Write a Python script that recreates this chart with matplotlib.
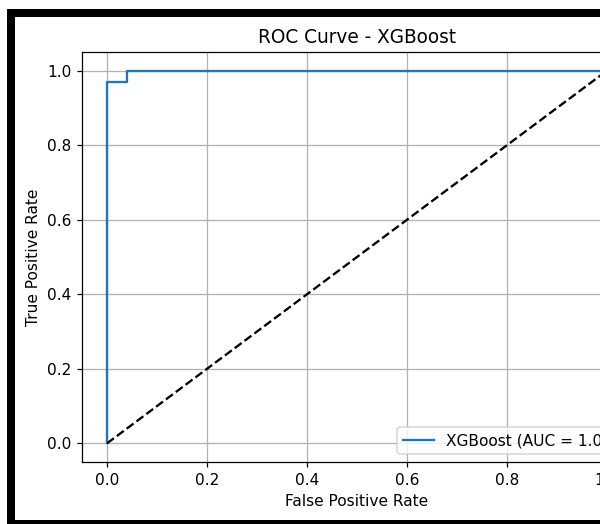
import matplotlib
matplotlib.use("Agg")
import matplotlib.pyplot as plt
from matplotlib.patches import Rectangle

# ROC points for the XGBoost classifier
fpr = [0.0, 0.0, 0.0, 0.04, 0.04, 1.0]
tpr = [0.0, 0.0303, 0.9697, 0.9697, 1.0, 1.0]
auc_score = 1.00
chance = [0.0, 1.0]

DPI = 111
W, H = 600, 524

fig = plt.figure(figsize=(W / DPI, H / DPI), dpi=DPI)

# axes run past the right edge of the canvas, so the right side is clipped
left, right, top, bottom = 82, 632, 52, 462
ax = fig.add_axes([left / W, (H - bottom) / H, (right - left) / W, (bottom - top) / H])

ax.plot(fpr, tpr, label=f"XGBoost (AUC = {auc_score:.2f})")
ax.plot(chance, chance, "k--")
ax.set_xlim(-0.05, 1.05)
ax.set_ylim(-0.05, 1.05)
ax.set_xlabel("False Positive Rate")
ax.set_ylabel("True Positive Rate")
ax.set_title("ROC Curve - XGBoost")
ax.legend(loc="lower right")
ax.grid(True)


def px_rect(x0, y0, x1, y1):
    # rectangle given in pixel coords measured from the top-left corner
    return Rectangle((x0 / W, (H - y1) / H), (x1 - x0) / W, (y1 - y0) / H,
                     transform=fig.transFigure, facecolor="black",
                     edgecolor="none", zorder=10)


# black frame around the screenshot
fig.patches.append(px_rect(7, 9, 15, 524))
fig.patches.append(px_rect(7, 9, 600, 17))
fig.patches.append(px_rect(7, 520, 600, 524))

fig.savefig("out.png", dpi=DPI)
